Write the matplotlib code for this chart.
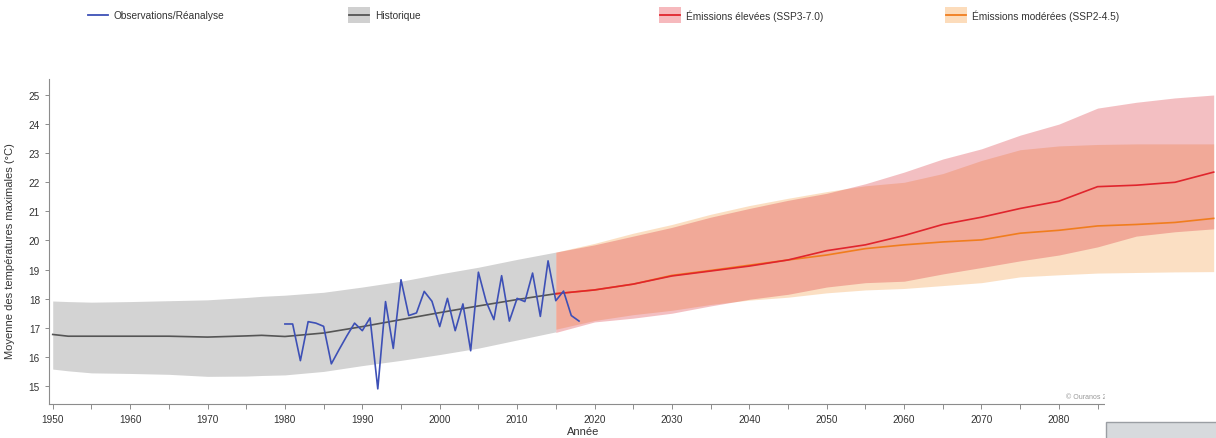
import matplotlib.pyplot as plt
from matplotlib import rcParams
from matplotlib.patches import Rectangle
from matplotlib.lines import Line2D
from matplotlib.ticker import MultipleLocator

rcParams['font.family'] = ['Liberation Sans', 'DejaVu Sans']
rcParams['font.size'] = 7

# observations / reanalysis, yearly
obs_years = list(range(1980, 2019))
obs_vals = [17.13, 17.13, 15.87, 17.21, 17.16, 17.05, 15.76, 16.25, 16.72, 17.16,
            16.90, 17.34, 14.90, 17.90, 16.29, 18.65, 17.42, 17.51, 18.25, 17.91,
            17.04, 18.01, 16.90, 17.82, 16.21, 18.91, 17.90, 17.28, 18.79, 17.23,
            18.01, 17.90, 18.88, 17.39, 19.30, 17.93, 18.26, 17.42, 17.23]

# historical simulations: mean and range
hist_years = [1950, 1952, 1955, 1960, 1965, 1970, 1975, 1977, 1980, 1985,
              1990, 1995, 2000, 2005, 2010, 2015]
hist_mean = [16.77, 16.71, 16.71, 16.71, 16.71, 16.68, 16.72, 16.74, 16.70, 16.82,
             17.04, 17.28, 17.52, 17.75, 17.97, 18.17]
hist_hi = [17.92, 17.90, 17.88, 17.90, 17.93, 17.96, 18.04, 18.08, 18.12, 18.22,
           18.40, 18.60, 18.85, 19.08, 19.35, 19.60]
hist_lo = [15.58, 15.52, 15.45, 15.43, 15.40, 15.33, 15.34, 15.36, 15.38, 15.50,
           15.70, 15.88, 16.08, 16.30, 16.58, 16.86]

# scenarios
ssp_years = [2015, 2020, 2025, 2030, 2035, 2040, 2045, 2050, 2055, 2060,
             2065, 2070, 2075, 2080, 2085, 2090, 2095, 2100]
ssp370_mean = [18.17, 18.30, 18.50, 18.78, 18.95, 19.12, 19.33, 19.65, 19.85, 20.17,
               20.55, 20.80, 21.10, 21.35, 21.85, 21.90, 22.00, 22.35]
ssp370_hi = [19.60, 19.85, 20.15, 20.45, 20.80, 21.10, 21.38, 21.62, 21.95, 22.35,
             22.80, 23.15, 23.62, 24.00, 24.55, 24.75, 24.90, 25.00]
ssp370_lo = [16.84, 17.20, 17.33, 17.50, 17.75, 17.98, 18.15, 18.40, 18.55, 18.60,
             18.85, 19.07, 19.30, 19.50, 19.78, 20.15, 20.30, 20.40]
ssp245_mean = [18.17, 18.30, 18.50, 18.80, 18.97, 19.15, 19.33, 19.50, 19.72, 19.85,
               19.95, 20.02, 20.25, 20.35, 20.50, 20.55, 20.62, 20.76]
ssp245_hi = [19.60, 19.90, 20.25, 20.55, 20.90, 21.20, 21.45, 21.68, 21.88, 22.00,
             22.30, 22.75, 23.12, 23.25, 23.30, 23.32, 23.32, 23.32]
ssp245_lo = [16.95, 17.25, 17.45, 17.60, 17.80, 17.95, 18.05, 18.20, 18.30, 18.35,
             18.45, 18.55, 18.75, 18.82, 18.88, 18.90, 18.92, 18.93]

legend_labels = ['Observations/Réanalyse', 'Historique',
                 'Émissions élevées (SSP3-7.0)', 'Émissions modérées (SSP2-4.5)']

c_obs = '#3d50b6'
c_hist = '#555555'
c_hist_band = '#d3d3d3'
c_red = '#e0252d'
c_red_band = (218/255, 45/255, 55/255, 0.3)
c_orange = '#f07d1e'
c_orange_band = (242/255, 152/255, 58/255, 0.3)
c_axis = '#8c8c8c'
c_text = '#333333'

W, H = 1216, 439
fig = plt.figure(figsize=(W/100, H/100), dpi=100)
ax = fig.add_axes([49/W, 34/H, (1215-49)/W, 325/H])

ax.fill_between(hist_years, hist_lo, hist_hi, color=c_hist_band, linewidth=0, zorder=1)
ax.fill_between(ssp_years, ssp245_lo, ssp245_hi, color=c_orange_band, linewidth=0, zorder=2)
ax.fill_between(ssp_years, ssp370_lo, ssp370_hi, color=c_red_band, linewidth=0, zorder=3)
ax.plot(hist_years, hist_mean, color=c_hist, linewidth=1.2, zorder=4)
ax.plot(ssp_years, ssp245_mean, color=c_orange, linewidth=1.2, zorder=5)
ax.plot(ssp_years, ssp370_mean, color=c_red, linewidth=1.2, zorder=6)
ax.plot(obs_years, obs_vals, color=c_obs, linewidth=1.2, zorder=7)

ax.set_xlim(1949.52, 2100.17)
ax.set_ylim(14.38, 25.55)
# x ticks stop at the corner panel
ax.set_xticks(range(1950, 2081, 10))
ax.set_xticks(range(1955, 2086, 10), minor=True)
ax.yaxis.set_major_locator(MultipleLocator(1))
ax.tick_params(axis='both', which='both', colors=c_axis, labelcolor=c_text,
               labelsize=7.2, length=3.5, width=0.7)
ax.tick_params(axis='y', length=3)
for side in ('top', 'right'):
    ax.spines[side].set_visible(False)
for side in ('left', 'bottom'):
    ax.spines[side].set_color(c_axis)
    ax.spines[side].set_linewidth(0.8)

fig.text(10/W, 1 - 251/H, 'Moyenne des températures maximales (°C)', rotation=90,
         ha='center', va='center', fontsize=8, color=c_text)
fig.text(583/W, 1 - 432/H, 'Année', ha='center', va='center', fontsize=8, color=c_text)
fig.text(1066/W, 1 - 398/H, '© Ouranos 2024', ha='left', va='center',
         fontsize=5, color='#999999')

# legend row
ly = 1 - 16/H
def legend_item(x, label, line_color, patch_color=None):
    if patch_color is not None:
        fig.add_artist(Rectangle(((x - 1)/W, 1 - 24/H), 22/W, 16/H,
                                 transform=fig.transFigure, color=patch_color, lw=0))
    fig.add_artist(Line2D([x/W, (x + 20)/W], [ly, ly], transform=fig.transFigure,
                          color=line_color, linewidth=1.3))
    fig.text((x + 26)/W, ly, label, ha='left', va='center', fontsize=7.3, color=c_text)

legend_item(88, legend_labels[0], c_obs)
legend_item(349, legend_labels[1], c_hist, '#d0d0d0')
legend_item(660, legend_labels[2], c_red, '#f6b9bd')
legend_item(946, legend_labels[3], c_orange, '#fcdcbb')

# white panel over the lower right corner with a grey box inside
fig.add_artist(Rectangle((1105/W, 0), (W - 1105)/W, 52/H, transform=fig.transFigure,
                         facecolor='white', edgecolor='none', zorder=10))
fig.add_artist(Rectangle((1106/W, -2/H), (W - 1100)/W, 18/H, transform=fig.transFigure,
                         facecolor='#d7dadd', edgecolor='#9a9ea3', linewidth=1, zorder=11))

fig.savefig('out.png', dpi=100)
